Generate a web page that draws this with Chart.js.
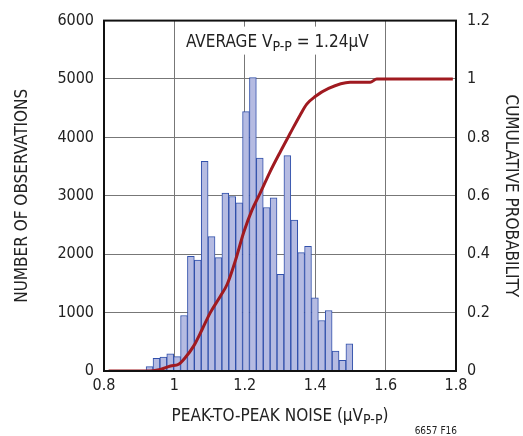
<!DOCTYPE html>
<html lang="en">
<head>
<meta charset="UTF-8">
<title>Peak-to-peak noise histogram</title>
<script src="https://cdn.jsdelivr.net/npm/chart.js"></script>
<style>
  body { margin: 0; background: #fff; }
  #wrap { width: 523px; height: 436px; }
</style>
</head>
<body>
<div id="wrap"><canvas id="noiseChart" width="523" height="436"></canvas></div>
<script>
// histogram: bin centres (uVp-p) and number of observations
const binCenters = [0.9294, 0.9490, 0.9686, 0.9881, 1.0077, 1.0273, 1.0468, 1.0664, 1.0860, 1.1056,
                    1.1251, 1.1447, 1.1643, 1.1839, 1.2034, 1.2230, 1.2426, 1.2622, 1.2817, 1.3013,
                    1.3209, 1.3405, 1.3600, 1.3796, 1.3992, 1.4188, 1.4383, 1.4579, 1.4775, 1.4970,
                    1.5166, 1.5362, 1.5558, 1.5753];
const counts = [74, 216, 239, 296, 245, 950, 1964, 1900, 3591, 2300,
                1940, 3045, 2988, 2880, 4440, 5025, 3648, 2800, 2965, 1656,
                3688, 2584, 2026, 2134, 1252, 865, 1036, 341, 182, 467,
                10, 0, 5, 5];

// cumulative probability curve
const cumX = [0.813, 0.932, 0.960, 0.989, 1.012, 1.031, 1.055, 1.079, 1.102, 1.131,
              1.150, 1.173, 1.197, 1.220, 1.244, 1.272, 1.301, 1.329, 1.357, 1.376,
              1.400, 1.438, 1.499, 1.556, 1.575, 1.791];
const cumP = [0, 0, 0.005, 0.017, 0.023, 0.046, 0.086, 0.143, 0.200, 0.257,
              0.297, 0.377, 0.475, 0.550, 0.610, 0.683, 0.751, 0.814, 0.876, 0.914,
              0.940, 0.968, 0.989, 0.989, 1.0, 1.0];

// tick labels
const xTicks = [0.8, 1, 1.2, 1.4, 1.6, 1.8];
const yTicks = [0, 1000, 2000, 3000, 4000, 5000, 6000];
const y1Ticks = [0, 0.2, 0.4, 0.6, 0.8, 1, 1.2];

const FONT = "'Liberation Sans Narrow', 'DejaVu Sans Condensed', sans-serif";
Chart.defaults.font.family = FONT;
Chart.defaults.color = '#222';

// text with a subscript part, e.g. V(P-P)
function drawSub(ctx, x, y, before, sub, after, size, subSize, drop, align) {
    ctx.font = size + 'px ' + FONT;
    const w1 = ctx.measureText(before).width;
    const w3 = ctx.measureText(after).width;
    ctx.font = subSize + 'px ' + FONT;
    const w2 = ctx.measureText(sub).width;
    let left = x;
    if (align === 'center') left = x - (w1 + w2 + w3) / 2;
    ctx.textAlign = 'left';
    ctx.textBaseline = 'alphabetic';
    ctx.font = size + 'px ' + FONT;
    ctx.fillText(before, left, y);
    ctx.font = subSize + 'px ' + FONT;
    ctx.fillText(sub, left + w1, y + drop);
    ctx.font = size + 'px ' + FONT;
    ctx.fillText(after, left + w1 + w2, y);
}

const extras = {
    id: 'extras',
    beforeDatasetsDraw(chart) {
        const ctx = chart.ctx;
        const a = chart.chartArea;
        ctx.save();
        ctx.fillStyle = '#fff';
        ctx.fillRect(a.left + 76, a.top + 6, 198, 28);
        ctx.fillStyle = '#222';
        drawSub(ctx, a.left + 82, a.top + 26, 'AVERAGE V', 'P-P', ' = 1.24µV', 17, 14, 4);
        ctx.restore();
    },
    afterDraw(chart) {
        const ctx = chart.ctx;
        const a = chart.chartArea;
        ctx.save();
        ctx.strokeStyle = '#111';
        ctx.lineWidth = 2;
        ctx.strokeRect(a.left, a.top, a.right - a.left, a.bottom - a.top);
        ctx.fillStyle = '#222';
        drawSub(ctx, (a.left + a.right) / 2, a.bottom + 50, 'PEAK-TO-PEAK NOISE (µV', 'P-P', ')', 17, 14, 3, 'center');
        ctx.font = '10px ' + FONT;
        ctx.textAlign = 'right';
        ctx.fillText('6657 F16', a.right + 1, 434);
        ctx.restore();
    }
};

const grid = { color: '#777', lineWidth: 1, drawTicks: false, offset: false };

new Chart(document.getElementById('noiseChart'), {
    type: 'bar',
    data: {
        datasets: [
            {
                type: 'line',
                label: 'Cumulative probability',
                data: cumX.map((x, i) => ({ x: x, y: cumP[i] })),
                yAxisID: 'y1',
                borderColor: '#a01a20',
                borderWidth: 3,
                pointRadius: 0,
                tension: 0.3,
                cubicInterpolationMode: 'monotone',
                order: 0
            },
            {
                type: 'bar',
                label: 'Observations',
                data: binCenters.map((x, i) => ({ x: x, y: counts[i] })),
                yAxisID: 'y',
                backgroundColor: '#b5bbe2',
                borderColor: '#3150ab',
                borderWidth: 1,
                barPercentage: 1,
                categoryPercentage: 1,
                order: 1
            }
        ]
    },
    options: {
        responsive: false,
        animation: false,
        layout: { padding: { top: 19, left: 0, right: 0, bottom: 0 } },
        plugins: {
            legend: { display: false },
            tooltip: { enabled: false }
        },
        scales: {
            x: {
                type: 'linear',
                min: 0.8,
                max: 1.8,
                offset: false,
                afterBuildTicks: s => { s.ticks = xTicks.map(v => ({ value: v })); },
                ticks: { padding: 5, font: { size: 16 }, callback: v => String(v) },
                grid: grid,
                border: { display: false },
                afterFit: s => { s.height = 65; }
            },
            y: {
                position: 'left',
                min: 0,
                max: 6000,
                afterBuildTicks: s => { s.ticks = yTicks.map(v => ({ value: v })); },
                ticks: { padding: 10, font: { size: 16 }, callback: v => String(v) },
                grid: grid,
                border: { display: false },
                title: { display: true, text: 'NUMBER OF OBSERVATIONS', font: { size: 17 }, padding: { top: 12, bottom: 0 } },
                afterFit: s => { s.width = 104; }
            },
            y1: {
                position: 'right',
                min: 0,
                max: 1.2,
                afterBuildTicks: s => { s.ticks = y1Ticks.map(v => ({ value: v })); },
                ticks: { padding: 11, font: { size: 16 }, callback: v => String(v) },
                grid: { display: false, drawTicks: false },
                border: { display: false },
                title: { display: true, text: 'CUMULATIVE PROBABILITY', font: { size: 17 }, padding: { top: 2, bottom: 0 } },
                afterFit: s => { s.width = 67; }
            }
        }
    },
    plugins: [extras]
});
</script>
</body>
</html>
